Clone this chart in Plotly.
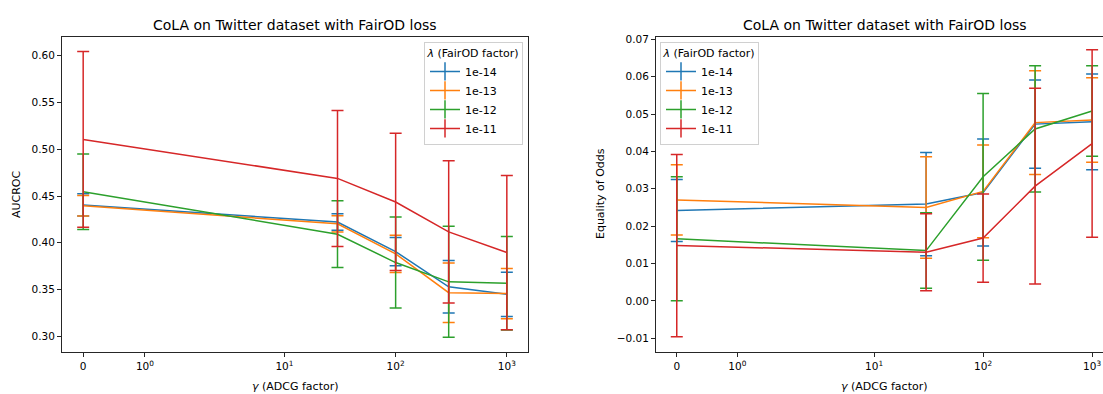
import math
import plotly.graph_objects as go

# ---------------- data ----------------
gamma = [0, 30, 100, 300, 1000]
lambdas = ["1e-14", "1e-13", "1e-12", "1e-11"]
colors = ["#1f77b4", "#ff7f0e", "#2ca02c", "#d62728"]

auc_mean = {
    "1e-14": [0.4405, 0.4221, 0.3905, 0.3529, 0.3448],
    "1e-13": [0.4395, 0.4203, 0.3881, 0.3466, 0.3456],
    "1e-12": [0.4546, 0.4091, 0.3788, 0.3582, 0.3566],
    "1e-11": [0.5105, 0.4688, 0.4436, 0.4116, 0.3895],
}
auc_err = {
    "1e-14": [0.0120, 0.0088, 0.0150, 0.0280, 0.0236],
    "1e-13": [0.0110, 0.0087, 0.0200, 0.0318, 0.0268],
    "1e-12": [0.0404, 0.0357, 0.0487, 0.0594, 0.0500],
    "1e-11": [0.0940, 0.0727, 0.0734, 0.0760, 0.0825],
}
eo_mean = {
    "1e-14": [0.0242, 0.0259, 0.0290, 0.0473, 0.0479],
    "1e-13": [0.0270, 0.0250, 0.0293, 0.0477, 0.0484],
    "1e-12": [0.0166, 0.01345, 0.0332, 0.0460, 0.0508],
    "1e-11": [0.0148, 0.0130, 0.0168, 0.0307, 0.0421],
}
eo_err = {
    "1e-14": [0.0083, 0.0138, 0.0143, 0.0118, 0.0128],
    "1e-13": [0.0094, 0.0136, 0.0124, 0.0139, 0.0113],
    "1e-12": [0.0166, 0.0101, 0.0223, 0.0169, 0.0121],
    "1e-11": [0.0244, 0.0103, 0.0118, 0.0262, 0.0251],
}

x_tick_values = [0, 1, 10, 100, 1000]
x_tick_labels = ["0", "10<sup>0</sup>", "10<sup>1</sup>", "10<sup>2</sup>", "10<sup>3</sup>"]
title_text = "CoLA on Twitter dataset with FairOD loss"


# symmetric-log scale (matplotlib default: linthresh=2, linscale=1, base 10)
def symlog(v, linthresh=2.0, linscale=1.0, base=10.0):
    adj = linscale / (1.0 - 1.0 / base)
    a = abs(v)
    if a <= linthresh:
        return v * adj
    s = 1 if v > 0 else -1
    return s * linthresh * (adj + math.log(a / linthresh, base))


xs = [symlog(g) for g in gamma]
tickpos = [symlog(t) for t in x_tick_values]

W, H = 1103, 394
FONT = "DejaVu Sans"
TXT = "#000000"

fig = go.Figure()

for name, col in zip(lambdas, colors):
    fig.add_trace(go.Scatter(
        x=xs, y=auc_mean[name], mode="lines", name=name,
        line=dict(color=col, width=1.5), showlegend=False,
        error_y=dict(type="data", array=auc_err[name], visible=True,
                     color=col, thickness=1.5, width=6),
        xaxis="x", yaxis="y",
    ))
    fig.add_trace(go.Scatter(
        x=[None], y=[None], mode="lines+markers", name=name,
        line=dict(color=col, width=1.5),
        marker=dict(symbol="line-ns", size=13, line=dict(color=col, width=1.5)),
        xaxis="x", yaxis="y", legend="legend",
    ))

for name, col in zip(lambdas, colors):
    fig.add_trace(go.Scatter(
        x=xs, y=eo_mean[name], mode="lines", name=name,
        line=dict(color=col, width=1.5), showlegend=False,
        error_y=dict(type="data", array=eo_err[name], visible=True,
                     color=col, thickness=1.5, width=6),
        xaxis="x2", yaxis="y2",
    ))
    fig.add_trace(go.Scatter(
        x=[None], y=[None], mode="lines+markers", name=name,
        line=dict(color=col, width=1.5),
        marker=dict(symbol="line-ns", size=13, line=dict(color=col, width=1.5)),
        xaxis="x2", yaxis="y2", legend="legend2",
    ))

axis_common = dict(
    showgrid=False, zeroline=False, showline=True, linecolor="#262626",
    linewidth=1, ticks="outside", ticklen=4, tickwidth=1, tickcolor="#262626",
    tickfont=dict(family=FONT, size=10.5, color=TXT),
)

legend_common = dict(
    yanchor="top",
    bgcolor="rgba(255,255,255,0.8)", bordercolor="#d0d0d0", borderwidth=1,
    font=dict(family=FONT, size=11, color=TXT),
    title=dict(text="<i>λ</i> (FairOD factor)", side="top center",
               font=dict(family=FONT, size=11, color=TXT)),
    tracegroupgap=0, itemwidth=30,
)

ydom = [0.1066, 0.9162]
fig.update_layout(
    width=W, height=H,
    margin=dict(l=0, r=0, t=0, b=0),
    paper_bgcolor="white", plot_bgcolor="white",
    font=dict(family=FONT, size=10.5, color=TXT),
    xaxis=dict(domain=[62 / W, 528 / W], range=[-0.381, 8.001],
               tickvals=tickpos, ticktext=x_tick_labels, mirror=True, anchor="y",
               **axis_common),
    yaxis=dict(domain=ydom, range=[0.2827, 0.6204], tickvals=[0.30, 0.35, 0.40, 0.45, 0.50, 0.55, 0.60],
               tickformat=".2f", mirror=True, anchor="x", **axis_common),
    xaxis2=dict(domain=[656 / W, 1.0], range=[-0.381, 7.82],
                tickvals=tickpos, ticktext=x_tick_labels, mirror=True, anchor="y2",
                **axis_common),
    yaxis2=dict(domain=ydom, range=[-0.0138, 0.0707],
                tickvals=[-0.01, 0.0, 0.01, 0.02, 0.03, 0.04, 0.05, 0.06, 0.07],
                tickformat=".2f", mirror=False, anchor="x2", **axis_common),
    legend=dict(x=523 / W, y=1 - 38 / H, xanchor="right", **legend_common),
    legend2=dict(x=660 / W, y=1 - 38 / H, xanchor="left", **legend_common),
)

# titles and axis labels
ann = []
for xc in [(62 + 528) / 2 / W, (656 + 1113) / 2 / W]:
    ann.append(dict(x=xc, y=1 - 21 / H, xref="paper", yref="paper", text=title_text,
                    showarrow=False, xanchor="center", yanchor="middle",
                    font=dict(family=FONT, size=14, color=TXT)))
    ann.append(dict(x=xc, y=1 - 386 / H, xref="paper", yref="paper",
                    text="<i>γ</i> (ADCG factor)", showarrow=False,
                    xanchor="center", yanchor="middle",
                    font=dict(family=FONT, size=11, color=TXT)))
ann.append(dict(x=16 / W, y=1 - 192 / H, xref="paper", yref="paper", text="AUCROC",
                showarrow=False, textangle=-90, xanchor="center", yanchor="middle",
                font=dict(family=FONT, size=11, color=TXT)))
ann.append(dict(x=600 / W, y=1 - 192 / H, xref="paper", yref="paper", text="Equality of Odds",
                showarrow=False, textangle=-90, xanchor="center", yanchor="middle",
                font=dict(family=FONT, size=11, color=TXT)))
fig.update_layout(annotations=ann)

fig.write_html("out.html")
